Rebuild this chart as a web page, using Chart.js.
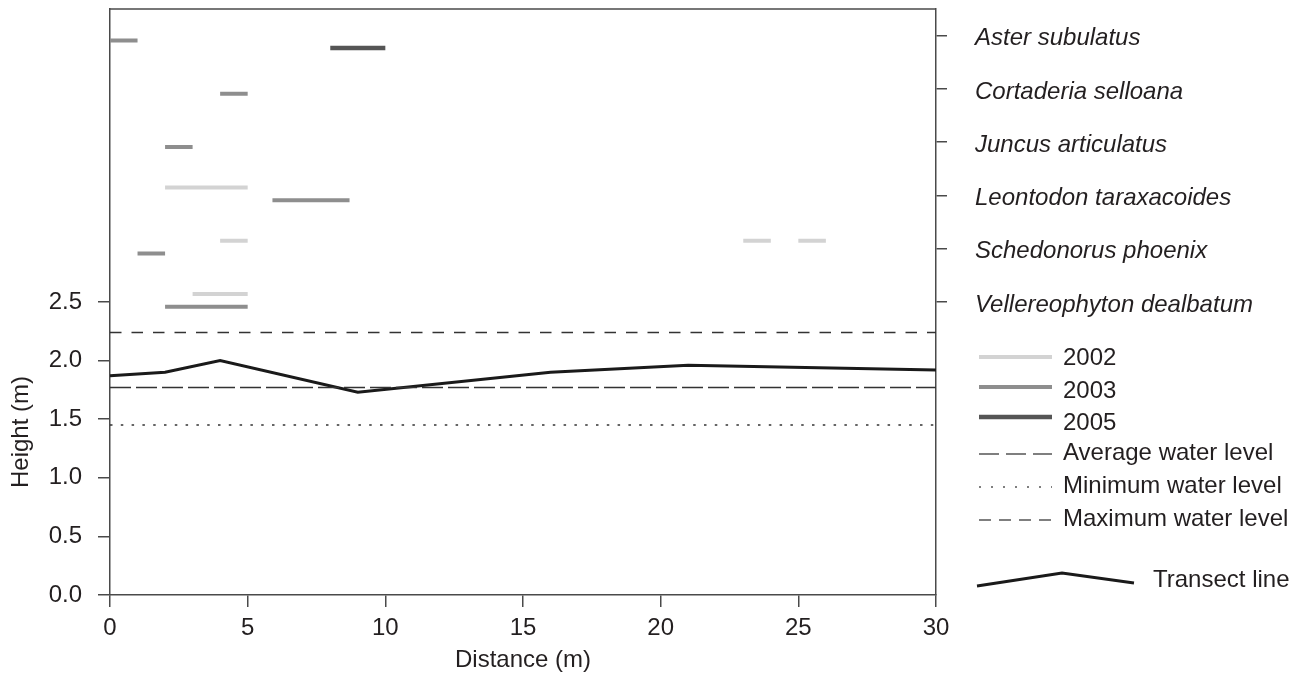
<!DOCTYPE html>
<html>
<head>
<meta charset="utf-8">
<title>Transect species heights</title>
<script src="https://cdn.jsdelivr.net/npm/chart.js@4.4.1/dist/chart.umd.min.js"></script>
<style>
  html, body { margin: 0; padding: 0; background: #fff; }
  #wrap { position: relative; width: 1297px; height: 684px; }
</style>
</head>
<body>
<div id="wrap"><canvas id="transectChart"></canvas></div>
<script>
// ---- data ----
// species on the right axis, bottom to top
const SPECIES = [
  'Vellereophyton dealbatum',
  'Schedonorus phoenix',
  'Leontodon taraxacoides',
  'Juncus articulatus',
  'Cortaderia selloana',
  'Aster subulatus'
];

// ground profile along the transect
const TRANSECT_X = [0, 2, 4, 9, 16, 21, 30];
const TRANSECT_Y = [1.87, 1.90, 2.00, 1.73, 1.90, 1.96, 1.92];

const WATER_NAMES = ['Average water level', 'Minimum water level', 'Maximum water level'];
const WATER_LEVELS = [1.77, 1.45, 2.24];

// occurrences: [species index, from (m), to (m)]
const YEARS = ['2002', '2003', '2005'];
const RECORDS_2002 = [[0, 3, 5], [1, 4, 5], [1, 23, 24], [1, 25, 26], [2, 2, 5]];
const RECORDS_2003 = [[0, 2, 5], [1, 1, 2], [2, 5.9, 8.7], [3, 2, 3], [4, 4, 5], [5, 0, 1]];
const RECORDS_2005 = [[5, 8, 10]];

const X_TICKS = [0, 5, 10, 15, 20, 25, 30];
const Y_TICKS = [0, 0.5, 1.0, 1.5, 2.0, 2.5];

// ---- styling ----
const FONT = "'Liberation Sans', Arial, Helvetica, sans-serif";
const FONT_SIZE = 24;
const TEXT = '#231f20';
const AXIS = '#4a4a4a';
const YEAR_COLORS = ['#d3d3d3', '#8e8e8e', '#555555'];
const YEAR_WIDTHS = [4, 4, 4.5];
const YEAR_SHIFT = [0.15, -0.09, -0.23]; // small vertical offset so years don't overlap
const WATER_DASH = [[21, 5], [2.5, 8.3], [11.5, 10]];

function segments(records, shift) {
  const pts = [];
  records.forEach(([s, from, to]) => {
    pts.push({ x: from, y: s + shift }, { x: to, y: s + shift }, { x: to, y: null });
  });
  return pts;
}

// fixed axis box sizes, no extra label padding
function fixBox(size, horizontal) {
  return axis => {
    if (horizontal) axis.height = size; else axis.width = size;
    axis.paddingTop = 0;
    axis.paddingBottom = 0;
    axis.paddingLeft = 0;
    axis.paddingRight = 0;
  };
}

const datasets = [];
[RECORDS_2002, RECORDS_2003, RECORDS_2005].forEach((recs, i) => {
  datasets.push({
    label: YEARS[i],
    data: segments(recs, YEAR_SHIFT[i]),
    yAxisID: 'y2',
    borderColor: YEAR_COLORS[i],
    borderWidth: YEAR_WIDTHS[i],
    pointRadius: 0,
    spanGaps: false
  });
});
WATER_LEVELS.forEach((v, i) => {
  datasets.push({
    label: WATER_NAMES[i],
    data: [{ x: X_TICKS[0], y: v }, { x: X_TICKS[X_TICKS.length - 1], y: v }],
    yAxisID: 'y',
    borderColor: '#333',
    borderWidth: 1.4,
    borderDash: WATER_DASH[i],
    pointRadius: 0
  });
});
datasets.push({
  label: 'Transect line',
  data: TRANSECT_X.map((x, i) => ({ x, y: TRANSECT_Y[i] })),
  yAxisID: 'y',
  borderColor: '#1a1a1a',
  borderWidth: 3,
  pointRadius: 0,
  tension: 0
});

// frame top, y title and the legend block on the right
const decorations = {
  id: 'decorations',
  afterDraw(chart) {
    const { ctx, chartArea } = chart;
    ctx.save();
    ctx.strokeStyle = AXIS;
    ctx.lineWidth = 1.5;
    ctx.beginPath();
    ctx.moveTo(chartArea.left, chartArea.top);
    ctx.lineTo(chartArea.right, chartArea.top);
    ctx.stroke();

    ctx.fillStyle = TEXT;
    ctx.font = `${FONT_SIZE}px ${FONT}`;
    ctx.textBaseline = 'middle';
    ctx.textAlign = 'center';
    ctx.save();
    ctx.translate(21, 432);
    ctx.rotate(-Math.PI / 2);
    ctx.fillText('Height (m)', 0, 0);
    ctx.restore();

    // legend
    const x0 = 979, x1 = 1052, tx = 1063;
    ctx.textAlign = 'left';
    const lineY = [357, 387, 417];
    const textY = [358, 391, 423];
    YEARS.forEach((y, i) => {
      ctx.strokeStyle = YEAR_COLORS[i];
      ctx.lineWidth = YEAR_WIDTHS[i];
      ctx.setLineDash([]);
      ctx.beginPath();
      ctx.moveTo(x0, lineY[i]);
      ctx.lineTo(x1, lineY[i]);
      ctx.stroke();
      ctx.fillText(y, tx, textY[i]);
    });
    const waterY = [454, 487, 520];
    const legendDash = [[20, 7], [2, 10], [12, 8]];
    WATER_NAMES.forEach((n, i) => {
      ctx.strokeStyle = '#555';
      ctx.lineWidth = 1.4;
      ctx.setLineDash(legendDash[i]);
      ctx.beginPath();
      ctx.moveTo(x0, waterY[i]);
      ctx.lineTo(x1, waterY[i]);
      ctx.stroke();
      ctx.fillText(n, tx, waterY[i] - 1);
    });
    ctx.setLineDash([]);
    ctx.strokeStyle = '#1a1a1a';
    ctx.lineWidth = 3;
    ctx.beginPath();
    ctx.moveTo(977, 586);
    ctx.lineTo(1062, 573);
    ctx.lineTo(1134, 583);
    ctx.stroke();
    ctx.fillText('Transect line', 1153, 580);
    ctx.restore();
  }
};

new Chart(document.getElementById('transectChart'), {
  type: 'line',
  data: { datasets },
  plugins: [decorations],
  options: {
    responsive: true,
    maintainAspectRatio: false,
    animation: false,
    events: [],
    layout: { padding: { top: 9, left: 0, right: 0, bottom: 0 } },
    plugins: { legend: { display: false }, tooltip: { enabled: false } },
    scales: {
      x: {
        type: 'linear',
        min: 0,
        max: 30,
        afterBuildTicks: axis => { axis.ticks = X_TICKS.map(v => ({ value: v })); },
        afterFit: fixBox(89, true),
        border: { color: AXIS, width: 1.5 },
        grid: { drawOnChartArea: false, drawTicks: true, tickLength: 12, color: AXIS, lineWidth: 1.5 },
        ticks: { color: TEXT, font: { family: FONT, size: FONT_SIZE }, padding: 7, maxRotation: 0 },
        title: {
          display: true,
          text: 'Distance (m)',
          color: TEXT,
          font: { family: FONT, size: FONT_SIZE },
          padding: { top: 0, bottom: 9 }
        }
      },
      y: {
        type: 'linear',
        position: 'left',
        min: 0,
        max: 5,
        afterBuildTicks: axis => { axis.ticks = Y_TICKS.map(v => ({ value: v })); },
        afterFit: fixBox(110, false),
        border: { color: AXIS, width: 1.5 },
        grid: { drawOnChartArea: false, drawTicks: true, tickLength: 12, color: AXIS, lineWidth: 1.5 },
        ticks: {
          color: TEXT,
          font: { family: FONT, size: FONT_SIZE },
          padding: 16,
          callback: v => v.toFixed(1)
        }
      },
      y2: {
        type: 'linear',
        position: 'right',
        min: -5.5,
        max: 5.5,
        afterBuildTicks: axis => { axis.ticks = SPECIES.map((s, i) => ({ value: i })); },
        afterFit: fixBox(361, false),
        border: { color: AXIS, width: 1.5 },
        grid: { drawOnChartArea: false, drawTicks: true, tickLength: 11, color: AXIS, lineWidth: 1.5 },
        ticks: {
          color: TEXT,
          font: { family: FONT, size: FONT_SIZE, style: 'italic' },
          padding: 28,
          labelOffset: 3,
          callback: v => SPECIES[v]
        }
      }
    }
  }
});
</script>
</body>
</html>
